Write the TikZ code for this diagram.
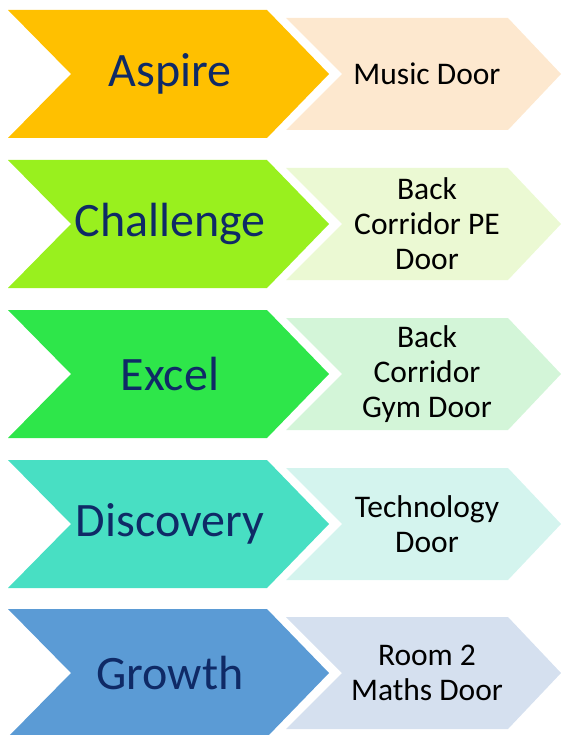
\documentclass[tikz,border=0pt]{standalone}
\usepackage{fontspec}
\setmainfont{Carlito}
\definecolor{bigA}{HTML}{FFC000}
\definecolor{smallA}{HTML}{FDE8CF}
\definecolor{bigB}{HTML}{99F01E}
\definecolor{smallB}{HTML}{EBF9D3}
\definecolor{bigC}{HTML}{2EE64A}
\definecolor{smallC}{HTML}{D3F5D8}
\definecolor{bigD}{HTML}{48DFC3}
\definecolor{smallD}{HTML}{D4F4EE}
\definecolor{bigE}{HTML}{5B9BD5}
\definecolor{smallE}{HTML}{D5E0EF}
\definecolor{navy}{HTML}{0F2A66}
\tikzset{
  bigtext/.style={font=\fontsize{48}{54}\selectfont, text=navy, inner sep=0pt},
  smalltext/.style={font=\fontsize{31.5}{35}\selectfont, text=black, align=center, inner sep=0pt}
}
\begin{document}
\begin{tikzpicture}[x=1pt,y=-1pt]
\useasboundingbox (0,0) rectangle (561,735);
\foreach \n/\c/\bc/\sc/\bt/\st in {
  a/74/bigA/smallA/{Aspire}/{Music Door},
  b/224/bigB/smallB/{Challenge}/{Back\\Corridor PE\\Door},
  c/374/bigC/smallC/{Excel}/{Back\\Corridor\\Gym Door},
  d/524/bigD/smallD/{Discovery}/{Technology\\Door},
  e/673/bigE/smallE/{Growth}/{Room 2\\Maths Door}}{
  \fill[\bc] (8,\c-64) -- (267,\c-64) -- (329,\c) -- (267,\c+64) -- (8,\c+64) -- (71,\c) -- cycle;
  \fill[\sc] (286,\c-56) -- (508,\c-56) -- (561,\c) -- (508,\c+56) -- (286,\c+56) -- (342,\c) -- cycle;
  \node[bigtext] (big\n) at (170,\c) {\bt};
  \node[smalltext] (small\n) at (427,\c) {\st};
}
\end{tikzpicture}
\end{document}
